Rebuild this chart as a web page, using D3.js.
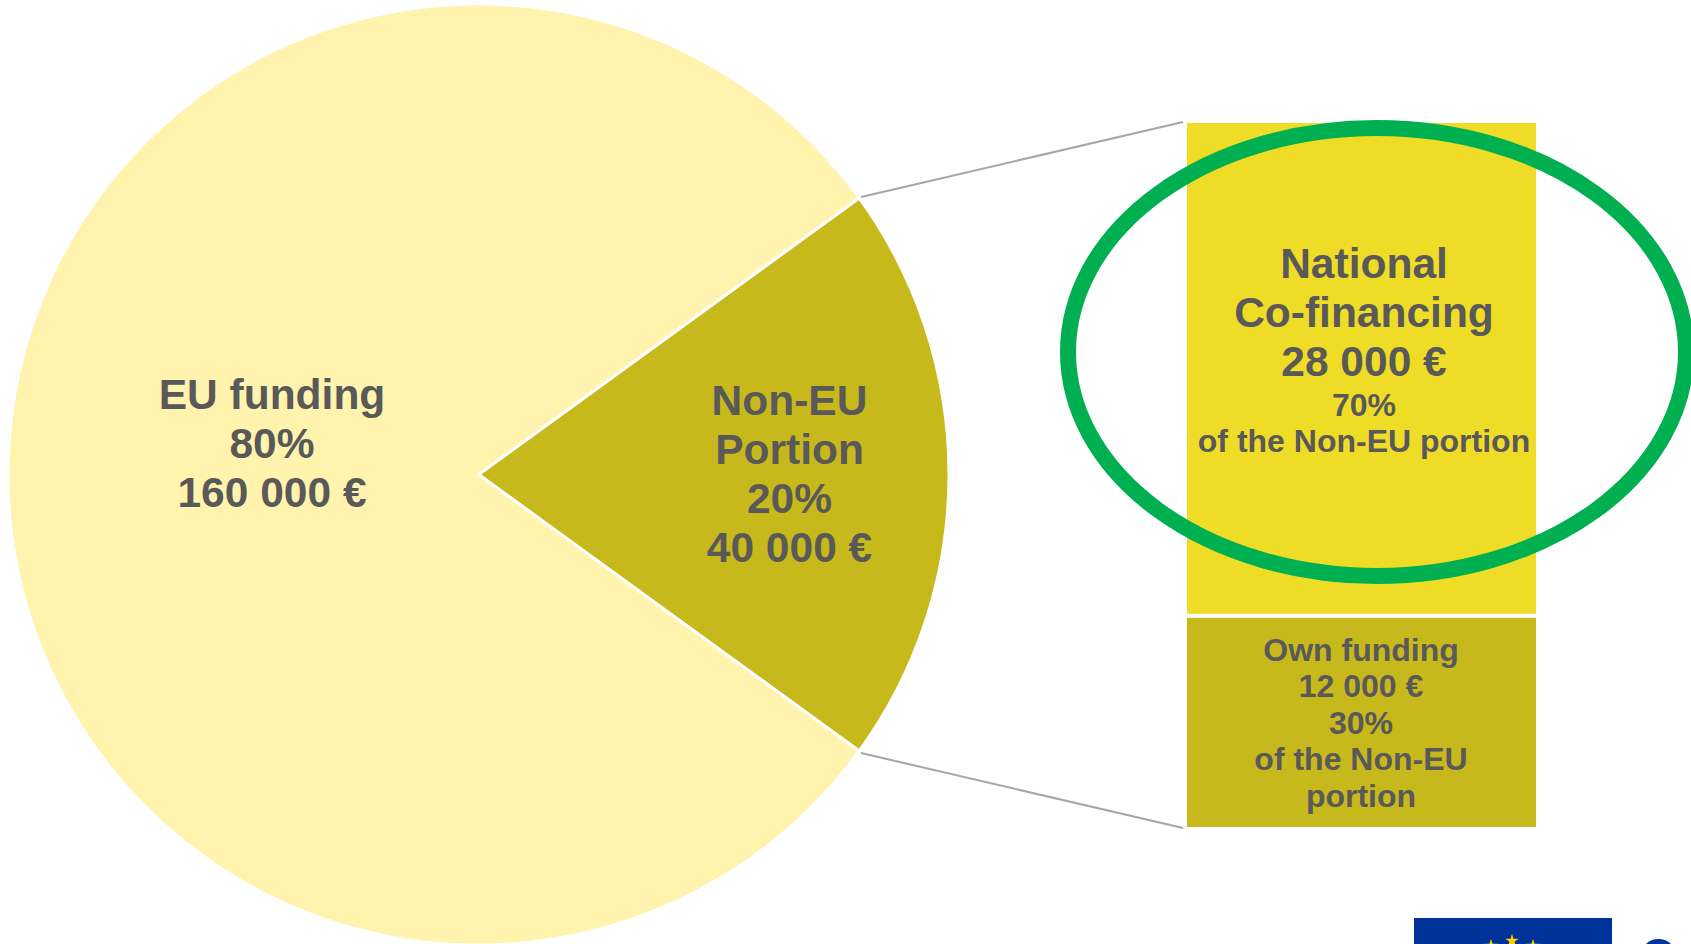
<!DOCTYPE html>
<html><head><meta charset="utf-8">
<style>html,body{margin:0;padding:0;background:#fff;overflow:hidden}svg{display:block}text{font-family:"Liberation Sans",Arial,sans-serif;font-weight:700;fill:#595959;text-anchor:middle}</style>
<script src="https://cdnjs.cloudflare.com/ajax/libs/d3/7.8.5/d3.min.js"></script>
</head><body><svg id="c" width="1691" height="944"></svg>
<script>
const pieCategories = ["Non-EU Portion", "EU funding"];
const pieValues = [40000, 160000];
const pieColors = ["#c7b81c", "#fff3ae"];
const barCategories = ["Own funding", "National Co-financing"];
const barValues = [12000, 28000];
const barColors = ["#c7b81c", "#efdc26"];
const labelEU = ["EU funding", "80%", "160 000 €"];
const labelNonEU = ["Non-EU", "Portion", "20%", "40 000 €"];
const labelNational = [["National",42.5],["Co-financing",42.5],["28 000 €",42.5],["70%",32],["of the Non-EU portion",32]];
const labelOwn = ["Own funding", "12 000 €", "30%", "of the Non-EU", "portion"];

const svg = d3.select("#c");
const cx = 478.5, cy = 474.5, r = 470.5;
const a0 = 0.3 * Math.PI;
const pie = d3.pie().sort(null).value(d => d).startAngle(a0).endAngle(a0 + 2 * Math.PI);
const arc = d3.arc().innerRadius(0).outerRadius(r);
const arcs = pie(pieValues);
svg.append("g").attr("transform", `translate(${cx},${cy})`).selectAll("path").data(arcs).join("path")
  .attr("d", arc).attr("fill", (d, i) => pieColors[i]).attr("stroke", "#fff").attr("stroke-width", 3).attr("stroke-linejoin","round");

const x0 = 1187, x1 = 1536;
const y = d3.scaleLinear().domain([0, d3.sum(barValues)]).range([827, 123]);
const stack = d3.cumsum(barValues);
svg.append("g").selectAll("rect").data(barValues).join("rect")
  .attr("x", x0).attr("width", x1 - x0)
  .attr("y", (d, i) => y(stack[i]) + (i === 0 ? 2 : 0))
  .attr("height", (d, i) => y(i ? stack[i - 1] : 0) - y(stack[i]) - 2)
  .attr("fill", (d, i) => barColors[i]);

// connector lines from the slice edge to the stacked bar
const tip = arcs[0];
const px = a => cx + r * Math.sin(a) + 2, py = a => cy - r * Math.cos(a);
const conn = [[tip.startAngle, y(d3.sum(barValues)) - 1, -1], [tip.endAngle, y(0) + 1, 2]];
svg.append("g").selectAll("line").data(conn).join("line")
  .attr("x1", d => px(d[0])).attr("y1", d => py(d[0]) + d[2])
  .attr("x2", x0 - 4).attr("y2", d => d[1])
  .attr("stroke", "#a6a6a6").attr("stroke-width", 2);

// labels
function block(x, lines) {
  svg.append("g").selectAll("text").data(lines).join("text")
    .attr("x", x).attr("y", d => d[1]).attr("font-size", d => d[2]).text(d => d[0]);
}
block(272, labelEU.map((t, i) => [t, 408.5 + i * 49, 42.5]));
block(789.5, labelNonEU.map((t, i) => [t, 414.5 + i * 49, 42.5]));
const natY = [278, 327, 376, 416, 452];
block(1364, labelNational.map((d, i) => [d[0], natY[i], d[1]]));
block(1361, labelOwn.map((t, i) => [t, 660.5 + i * 36.5, 32]));

// ellipse
svg.append("ellipse").attr("cx", 1377).attr("cy", 352).attr("rx", 309).attr("ry", 224)
  .attr("fill", "none").attr("stroke", "#00b050").attr("stroke-width", 16);

// EU flag and logo, cut by the bottom edge
svg.append("rect").attr("x", 1414).attr("y", 918).attr("width", 198).attr("height", 60).attr("fill", "#003399");
const starsX = [1491, 1512, 1533], starsY = [946, 941, 946];
const star = d3.symbol().type(d3.symbolStar).size(55);
svg.append("g").selectAll("path").data(starsX).join("path").attr("d", star)
  .attr("transform", (d, i) => `translate(${d},${starsY[i]})`).attr("fill", "#ffcc00");
svg.append("circle").attr("cx", 1658.5).attr("cy", 957).attr("r", 18).attr("fill", "#003399");
</script></body></html>
